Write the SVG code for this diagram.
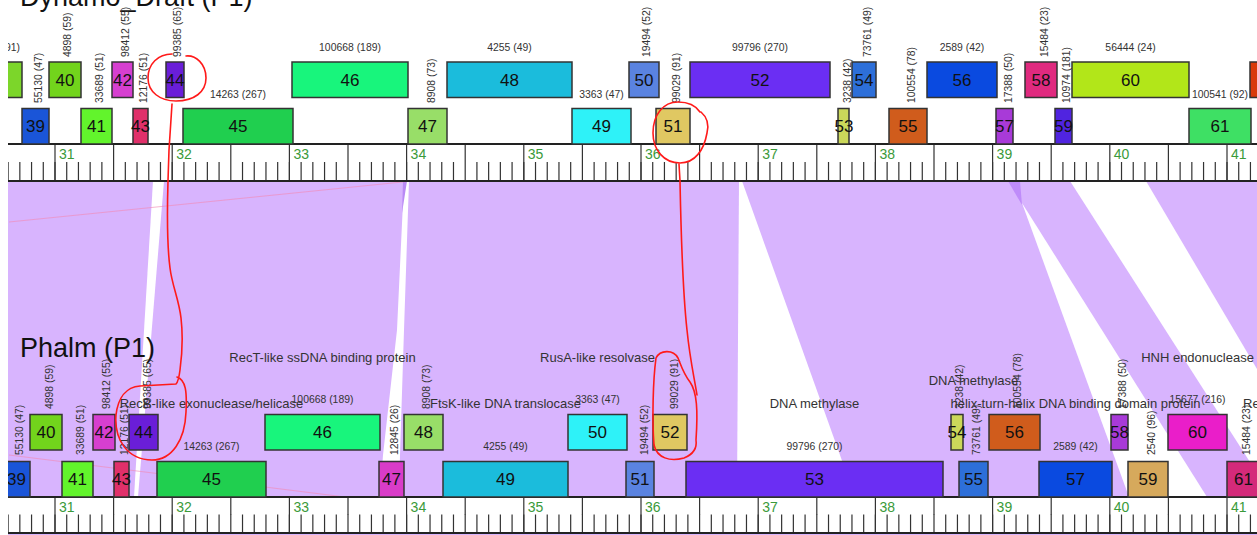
<svg xmlns="http://www.w3.org/2000/svg" width="1257" height="535" viewBox="0 0 1257 535">
<defs>
<style>
text{font-family:"Liberation Sans",Arial,sans-serif}
.gene rect{stroke:#333;stroke-width:1.5}
.num{font-size:17px;fill:#111;text-anchor:middle}
.cnt{font-size:10.4px;fill:#333}
.ch{font-size:10.4px;fill:#333;text-anchor:middle}
.fn{font-size:13px;fill:#333;text-anchor:middle}
.title{font-size:27px;fill:#111}
.rn{font-size:14px;fill:#3a9a3a}
.tick{stroke:#333;fill:none}
.rline{stroke:#222;stroke-width:2.2}
.red{fill:none;stroke:#ff1a1a;stroke-width:1.6;stroke-linecap:round;stroke-linejoin:round}
</style>
<clipPath id="clip"><rect x="8" y="-10" width="1260" height="560"/></clipPath>
</defs>
<rect x="0" y="0" width="1257" height="535" fill="#fff"/>
<g clip-path="url(#clip)">
<g id="connectors">
<rect x="8" y="181" width="1249" height="316" fill="#d8b4fe"/>
<rect x="8" y="533.5" width="1249" height="2" fill="#d8b4fe"/>
<polygon points="153,181 164,181 138,497 134,497" fill="#fff"/>
<polygon points="404,181 409,181 404,330 400,455 399,497 380,497 383,455 397,330" fill="#fff"/>
<polygon points="403,181 407,181 402,213" fill="#b98af5"/>
<polygon points="739,181 742,181 855,497 737,497" fill="#fff"/>
<polygon points="1008,181 1020,181 1022,205" fill="#bf8cfa"/>
<polygon points="1022,203 1207,497 1129,497" fill="#fff"/>
<polygon points="1070,181 1146,181 1257,369 1257,473" fill="#fff"/>
<line x1="9" y1="222" x2="412" y2="181" stroke="#f28cb8" stroke-width="0.8" opacity="0.8"/>
<line x1="9" y1="455" x2="385" y2="502" stroke="#f28cb8" stroke-width="0.8" opacity="0.8"/>
</g>
<g id="ruler-top">
<rect x="8" y="144" width="1249" height="37" fill="#fff"/>
<line class="tick" x1="7.52" y1="171.5" x2="1257" y2="171.5" stroke-width="19" stroke-dasharray="1.2 10.52"/>
<line class="tick" x1="113" y1="153" x2="1257" y2="153" stroke-width="18" stroke-dasharray="1.2 116"/>
<line class="tick" x1="54.4" y1="162.5" x2="1257" y2="162.5" stroke-width="37" stroke-dasharray="1.2 116"/>
<line class="rline" x1="8" y1="144" x2="1257" y2="144"/>
<line class="rline" x1="8" y1="181" x2="1257" y2="181"/>
<text class="rn" x="59" y="159">31</text><text class="rn" x="176.2" y="159">32</text><text class="rn" x="293.4" y="159">33</text><text class="rn" x="410.6" y="159">34</text><text class="rn" x="527.8" y="159">35</text><text class="rn" x="645" y="159">36</text><text class="rn" x="762.2" y="159">37</text><text class="rn" x="879.4" y="159">38</text><text class="rn" x="996.6" y="159">39</text><text class="rn" x="1113.8" y="159">40</text><text class="rn" x="1231" y="159">41</text>
</g>
<g id="ruler-bottom">
<rect x="8" y="497" width="1249" height="36.5" fill="#fff"/>
<line class="tick" x1="7.52" y1="524" x2="1257" y2="524" stroke-width="19" stroke-dasharray="1.2 10.52"/>
<line class="tick" x1="113" y1="506" x2="1257" y2="506" stroke-width="18" stroke-dasharray="1.2 116"/>
<line class="tick" x1="54.4" y1="515" x2="1257" y2="515" stroke-width="37" stroke-dasharray="1.2 116"/>
<line class="rline" x1="8" y1="497" x2="1257" y2="497"/>
<line class="rline" x1="8" y1="533" x2="1257" y2="533"/>
<text class="rn" x="59" y="512">31</text><text class="rn" x="176.2" y="512">32</text><text class="rn" x="293.4" y="512">33</text><text class="rn" x="410.6" y="512">34</text><text class="rn" x="527.8" y="512">35</text><text class="rn" x="645" y="512">36</text><text class="rn" x="762.2" y="512">37</text><text class="rn" x="879.4" y="512">38</text><text class="rn" x="996.6" y="512">39</text><text class="rn" x="1113.8" y="512">40</text><text class="rn" x="1231" y="512">41</text>
</g>
<text id="title-top" class="title" x="20" y="6">Dynamo_Draft (P1)</text>
<text id="title-bottom" class="title" x="20" y="357">Phalm (P1)</text>
<g id="top-genes">
<g id="t38" class="gene"><rect x="0" y="62" width="22" height="35.5" fill="#7cd62a"/><text class="ch" x="20" y="51" style="text-anchor:end">91)</text></g>
<g id="t39" class="gene"><rect x="22" y="108.5" width="27" height="35.5" fill="#1a55d8"/><text class="num" x="35.5" y="132">39</text><text class="cnt" transform="translate(41.5,103) rotate(-90)">55130 (47)</text></g>
<g id="t40" class="gene"><rect x="49" y="62" width="32" height="35.5" fill="#72d41c"/><text class="num" x="65" y="86">40</text><text class="cnt" transform="translate(71,57) rotate(-90)">4898 (59)</text></g>
<g id="t41" class="gene"><rect x="81" y="108.5" width="31" height="35.5" fill="#62f42c"/><text class="num" x="96.5" y="132">41</text><text class="cnt" transform="translate(102.5,103) rotate(-90)">33689 (51)</text></g>
<g id="t42" class="gene"><rect x="112" y="62" width="21" height="35.5" fill="#d63fd0"/><text class="num" x="122.5" y="86">42</text><text class="cnt" transform="translate(128.5,57) rotate(-90)">98412 (55)</text></g>
<g id="t43" class="gene"><rect x="133" y="108.5" width="15" height="35.5" fill="#e0306a"/><text class="num" x="140.5" y="132">43</text><text class="cnt" transform="translate(146.5,103) rotate(-90)">12176 (51)</text></g>
<g id="t44" class="gene"><rect x="166" y="62" width="18" height="35.5" fill="#6a1ed8"/><text class="num" x="175" y="86">44</text><text class="cnt" transform="translate(181,57) rotate(-90)">99385 (65)</text></g>
<g id="t45" class="gene"><rect x="183" y="108.5" width="110" height="35.5" fill="#20cf4f"/><text class="num" x="238" y="132">45</text><text class="ch" x="238" y="98">14263 (267)</text></g>
<g id="t46" class="gene"><rect x="292" y="62" width="116" height="35.5" fill="#18f57c"/><text class="num" x="350" y="86">46</text><text class="ch" x="350" y="51">100668 (189)</text></g>
<g id="t47" class="gene"><rect x="408" y="108.5" width="39" height="35.5" fill="#98de68"/><text class="num" x="427.5" y="132">47</text><text class="cnt" transform="translate(434.5,103) rotate(-90)">8908 (73)</text></g>
<g id="t48" class="gene"><rect x="447" y="62" width="125" height="35.5" fill="#1bbcdc"/><text class="num" x="509.5" y="86">48</text><text class="ch" x="509.5" y="51">4255 (49)</text></g>
<g id="t49" class="gene"><rect x="572" y="108.5" width="59" height="35.5" fill="#2ef2f8"/><text class="num" x="601.5" y="132">49</text><text class="ch" x="601.5" y="98">3363 (47)</text></g>
<g id="t50" class="gene"><rect x="629" y="62" width="30" height="35.5" fill="#5a83e0"/><text class="num" x="644" y="86">50</text><text class="cnt" transform="translate(650,57) rotate(-90)">19494 (52)</text></g>
<g id="t51" class="gene"><rect x="656" y="108.5" width="34" height="35.5" fill="#e0c862"/><text class="num" x="673" y="132">51</text><text class="cnt" transform="translate(680,103) rotate(-90)">99029 (91)</text></g>
<g id="t52" class="gene"><rect x="690" y="62" width="140" height="35.5" fill="#6b2ef3"/><text class="num" x="760" y="86">52</text><text class="ch" x="760" y="51">99796 (270)</text></g>
<g id="t53" class="gene"><rect x="838" y="108.5" width="11" height="35.5" fill="#cbd85a"/><text class="num" x="844" y="132">53</text><text class="cnt" transform="translate(851,103) rotate(-90)">3238 (42)</text></g>
<g id="t54" class="gene"><rect x="852" y="62" width="24" height="35.5" fill="#2d6fd9"/><text class="num" x="864" y="86">54</text><text class="cnt" transform="translate(871,57) rotate(-90)">73761 (49)</text></g>
<g id="t55" class="gene"><rect x="889" y="108.5" width="38" height="35.5" fill="#d05c1c"/><text class="num" x="908" y="132">55</text><text class="cnt" transform="translate(915,103) rotate(-90)">100554 (78)</text></g>
<g id="t56" class="gene"><rect x="927" y="62" width="70" height="35.5" fill="#0a4ae0"/><text class="num" x="962" y="86">56</text><text class="ch" x="962" y="51">2589 (42)</text></g>
<g id="t57" class="gene"><rect x="996" y="108.5" width="17" height="35.5" fill="#a83ad8"/><text class="num" x="1004.5" y="132">57</text><text class="cnt" transform="translate(1011.5,103) rotate(-90)">17388 (50)</text></g>
<g id="t58" class="gene"><rect x="1025" y="62" width="32" height="35.5" fill="#e02a7f"/><text class="num" x="1041" y="86">58</text><text class="cnt" transform="translate(1047.5,57) rotate(-90)">15484 (23)</text></g>
<g id="t59" class="gene"><rect x="1055" y="108.5" width="17" height="35.5" fill="#5024e0"/><text class="num" x="1063.5" y="132">59</text><text class="cnt" transform="translate(1070,103) rotate(-90)">10974 (181)</text></g>
<g id="t60" class="gene"><rect x="1072" y="62" width="117" height="35.5" fill="#b2e619"/><text class="num" x="1130.5" y="86">60</text><text class="ch" x="1130.5" y="51">56444 (24)</text></g>
<g id="t61" class="gene"><rect x="1189" y="108.5" width="62" height="35.5" fill="#3ee064"/><text class="num" x="1220" y="132">61</text><text class="ch" x="1220" y="98">100541 (92)</text></g>
<g id="t62" class="gene"><rect x="1250" y="62" width="20" height="35.5" fill="#d93a0a"/></g>
</g>
<g id="bottom-genes">
<g id="b39" class="gene"><rect x="3" y="461.5" width="27" height="35.5" fill="#1a55d8"/><text class="num" x="16.5" y="485">39</text><text class="cnt" transform="translate(23,455) rotate(-90)">55130 (47)</text></g>
<g id="b40" class="gene"><rect x="30" y="414.5" width="32" height="35.5" fill="#72d41c"/><text class="num" x="46" y="438">40</text><text class="cnt" transform="translate(53,409) rotate(-90)">4898 (59)</text></g>
<g id="b41" class="gene"><rect x="62" y="461.5" width="31" height="35.5" fill="#62f42c"/><text class="num" x="77.5" y="485">41</text><text class="cnt" transform="translate(83.5,455) rotate(-90)">33689 (51)</text></g>
<g id="b42" class="gene"><rect x="93" y="414.5" width="22" height="35.5" fill="#d63fd0"/><text class="num" x="104" y="438">42</text><text class="cnt" transform="translate(110,409) rotate(-90)">98412 (55)</text></g>
<g id="b43" class="gene"><rect x="114" y="461.5" width="15" height="35.5" fill="#e0306a"/><text class="num" x="121.5" y="485">43</text><text class="cnt" transform="translate(128,455) rotate(-90)">12176 (51)</text></g>
<g id="b44" class="gene"><rect x="129" y="414.5" width="29" height="35.5" fill="#6a1ed8"/><text class="num" x="143.5" y="438">44</text><text class="cnt" transform="translate(150.5,409) rotate(-90)">99385 (65)</text></g>
<g id="b45" class="gene"><rect x="157" y="461.5" width="109" height="35.5" fill="#20cf4f"/><text class="num" x="211.5" y="485">45</text><text class="ch" x="211.5" y="450">14263 (267)</text><text class="fn" x="211.5" y="408">RecB-like exonuclease/helicase</text></g>
<g id="b46" class="gene"><rect x="265" y="414.5" width="115" height="35.5" fill="#18f57c"/><text class="num" x="322.5" y="438">46</text><text class="ch" x="322.5" y="403">100668 (189)</text><text class="fn" x="322.5" y="362">RecT-like ssDNA binding protein</text></g>
<g id="b47" class="gene"><rect x="379" y="461.5" width="25" height="35.5" fill="#d93cc8"/><text class="num" x="391.5" y="485">47</text><text class="cnt" transform="translate(398,455) rotate(-90)">12845 (26)</text></g>
<g id="b48" class="gene"><rect x="404" y="414.5" width="39" height="35.5" fill="#98de68"/><text class="num" x="423.5" y="438">48</text><text class="cnt" transform="translate(430,409) rotate(-90)">8908 (73)</text></g>
<g id="b49" class="gene"><rect x="443" y="461.5" width="125" height="35.5" fill="#1bbcdc"/><text class="num" x="505.5" y="485">49</text><text class="ch" x="505.5" y="450">4255 (49)</text><text class="fn" x="505.5" y="408">FtsK-like DNA translocase</text></g>
<g id="b50" class="gene"><rect x="568" y="414.5" width="59" height="35.5" fill="#2ef2f8"/><text class="num" x="597.5" y="438">50</text><text class="ch" x="597.5" y="403">3363 (47)</text><text class="fn" x="597.5" y="362">RusA-like resolvase</text></g>
<g id="b51" class="gene"><rect x="626" y="461.5" width="28" height="35.5" fill="#5a83e0"/><text class="num" x="640" y="485">51</text><text class="cnt" transform="translate(647.5,455) rotate(-90)">19494 (52)</text></g>
<g id="b52" class="gene"><rect x="653" y="414.5" width="34" height="35.5" fill="#e0c862"/><text class="num" x="670" y="438">52</text><text class="cnt" transform="translate(677.5,409) rotate(-90)">99029 (91)</text></g>
<g id="b53" class="gene"><rect x="686" y="461.5" width="257" height="35.5" fill="#6b2ef3"/><text class="num" x="814.5" y="485">53</text><text class="ch" x="814.5" y="450">99796 (270)</text><text class="fn" x="814.5" y="408">DNA methylase</text></g>
<g id="b54" class="gene"><rect x="951" y="414.5" width="12" height="35.5" fill="#cbd85a"/><text class="num" x="957" y="438">54</text><text class="cnt" transform="translate(963,409) rotate(-90)">3238 (42)</text></g>
<g id="b55" class="gene"><rect x="959" y="461.5" width="29" height="35.5" fill="#2d6fd9"/><text class="num" x="973.5" y="485">55</text><text class="cnt" transform="translate(980,455) rotate(-90)">73761 (49)</text><text class="fn" x="973.5" y="385">DNA methylase</text></g>
<g id="b56" class="gene"><rect x="989" y="414.5" width="51" height="35.5" fill="#d05c1c"/><text class="num" x="1014.5" y="438">56</text><text class="cnt" transform="translate(1021,409) rotate(-90)">100554 (78)</text></g>
<g id="b57" class="gene"><rect x="1039" y="461.5" width="73" height="35.5" fill="#0a4ae0"/><text class="num" x="1075.5" y="485">57</text><text class="ch" x="1075.5" y="450">2589 (42)</text><text class="fn" x="1075.5" y="408">helix-turn-helix DNA binding domain protein</text></g>
<g id="b58" class="gene"><rect x="1111" y="414.5" width="17" height="35.5" fill="#a83ad8"/><text class="num" x="1119.5" y="438">58</text><text class="cnt" transform="translate(1126,409) rotate(-90)">17388 (50)</text></g>
<g id="b59" class="gene"><rect x="1128" y="461.5" width="40" height="35.5" fill="#d6a95c"/><text class="num" x="1148" y="485">59</text><text class="cnt" transform="translate(1154.5,455) rotate(-90)">2540 (96)</text></g>
<g id="b60" class="gene"><rect x="1168" y="414.5" width="59" height="35.5" fill="#ea1ec9"/><text class="num" x="1197.5" y="438">60</text><text class="ch" x="1197.5" y="403">15677 (216)</text><text class="fn" x="1197.5" y="362">HNH endonuclease</text></g>
<g id="b61" class="gene"><rect x="1227" y="461.5" width="33" height="35.5" fill="#d42a7a"/><text class="num" x="1243.5" y="485">61</text><text class="cnt" transform="translate(1250,455) rotate(-90)">15484 (23)</text><text class="fn" x="1243" y="408" style="text-anchor:start">Re</text></g>
</g>
<g id="annotations">
<path class="red" d="M172,54 C158,54 148,64 148,78 C148,92 160,101 176,101 C194,101 206,92 206,78 C206,64 196,55 186,56"/>
<path class="red" d="M172,104 L169,150 L168,181 C167,215 167,245 170,268 C172,285 179,300 181,318 C183,335 182,355 180,370 C179,378 178,382 176,384 L140,386 C126,387 118,398 116,415 C114,440 128,460 152,460 C172,460 185,440 186,412 C187,392 186,380 177,377"/>
<path class="red" d="M701,112 C708,118 709,125 707,133 C704,150 695,163 680,163 C664,163 653,150 653,133 C653,115 663,102 678,102 C689,102 696,106 700,112"/>
<path class="red" d="M679,164 L680,181 C681,230 682,285 687,330 C690,360 694,376 697,395"/>
<path class="red" d="M696,440 C698,410 697,392 690,382 C683,373 681,365 678,358 C673,349 660,350 656,358 C653,380 652,420 654,445 C657,458 670,462 684,458 C694,454 697,447 696,440"/>
</g>
</g>
</svg>
